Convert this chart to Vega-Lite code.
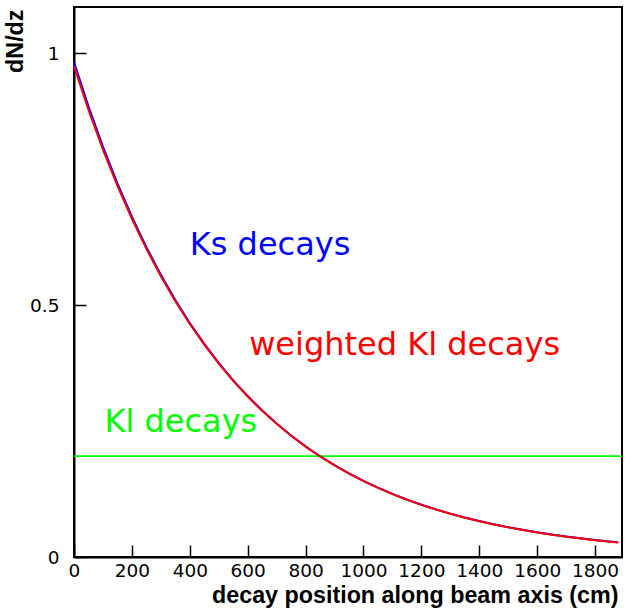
{
  "$schema": "https://vega.github.io/schema/vega-lite/v6.json",
  "width": 548,
  "height": 550,
  "autosize": {"type": "none"},
  "padding": {"left": 74, "top": 7, "right": 4, "bottom": 51},
  "background": "white",
  "config": {
    "view": {"stroke": "black", "strokeWidth": 2},
    "axis": {
      "grid": false,
      "domainColor": "black",
      "domainWidth": 2,
      "tickColor": "black",
      "tickWidth": 1.5,
      "tickSize": -12,
      "labelFont": "DejaVu Sans",
      "labelFontSize": 18.5,
      "labelColor": "black",
      "labelFlush": false,
      "titleFont": "Liberation Sans",
      "titleFontWeight": "bold",
      "titleFontSize": 23.3,
      "titleColor": "black"
    }
  },
  "datasets": {
    "curves": [
      {"series": "Ks", "z": 0, "v": 0.9820},
      {"series": "Ks", "z": 50, "v": 0.8942},
      {"series": "Ks", "z": 100, "v": 0.8143},
      {"series": "Ks", "z": 150, "v": 0.7415},
      {"series": "Ks", "z": 200, "v": 0.6752},
      {"series": "Ks", "z": 250, "v": 0.6149},
      {"series": "Ks", "z": 300, "v": 0.5599},
      {"series": "Ks", "z": 350, "v": 0.5099},
      {"series": "Ks", "z": 400, "v": 0.4643},
      {"series": "Ks", "z": 450, "v": 0.4228},
      {"series": "Ks", "z": 500, "v": 0.3850},
      {"series": "Ks", "z": 550, "v": 0.3506},
      {"series": "Ks", "z": 600, "v": 0.3193},
      {"series": "Ks", "z": 650, "v": 0.2907},
      {"series": "Ks", "z": 700, "v": 0.2648},
      {"series": "Ks", "z": 750, "v": 0.2411},
      {"series": "Ks", "z": 800, "v": 0.2195},
      {"series": "Ks", "z": 850, "v": 0.1999},
      {"series": "Ks", "z": 900, "v": 0.1821},
      {"series": "Ks", "z": 950, "v": 0.1658},
      {"series": "Ks", "z": 1000, "v": 0.1510},
      {"series": "Ks", "z": 1050, "v": 0.1375},
      {"series": "Ks", "z": 1100, "v": 0.1252},
      {"series": "Ks", "z": 1150, "v": 0.1140},
      {"series": "Ks", "z": 1200, "v": 0.1038},
      {"series": "Ks", "z": 1250, "v": 0.0945},
      {"series": "Ks", "z": 1300, "v": 0.0861},
      {"series": "Ks", "z": 1350, "v": 0.0784},
      {"series": "Ks", "z": 1400, "v": 0.0714},
      {"series": "Ks", "z": 1450, "v": 0.0650},
      {"series": "Ks", "z": 1500, "v": 0.0592},
      {"series": "Ks", "z": 1550, "v": 0.0539},
      {"series": "Ks", "z": 1600, "v": 0.0491},
      {"series": "Ks", "z": 1650, "v": 0.0447},
      {"series": "Ks", "z": 1700, "v": 0.0407},
      {"series": "Ks", "z": 1750, "v": 0.0371},
      {"series": "Ks", "z": 1800, "v": 0.0337},
      {"series": "Ks", "z": 1850, "v": 0.0307},
      {"series": "Ks", "z": 1880, "v": 0.0291},
      {"series": "KlW", "z": 0, "v": 0.9740},
      {"series": "KlW", "z": 50, "v": 0.8872},
      {"series": "KlW", "z": 100, "v": 0.8083},
      {"series": "KlW", "z": 150, "v": 0.7365},
      {"series": "KlW", "z": 200, "v": 0.6712},
      {"series": "KlW", "z": 250, "v": 0.6114},
      {"series": "KlW", "z": 300, "v": 0.5569},
      {"series": "KlW", "z": 350, "v": 0.5074},
      {"series": "KlW", "z": 400, "v": 0.4623},
      {"series": "KlW", "z": 450, "v": 0.4213},
      {"series": "KlW", "z": 500, "v": 0.3838},
      {"series": "KlW", "z": 550, "v": 0.3496},
      {"series": "KlW", "z": 600, "v": 0.3185},
      {"series": "KlW", "z": 650, "v": 0.2900},
      {"series": "KlW", "z": 700, "v": 0.2642},
      {"series": "KlW", "z": 750, "v": 0.2406},
      {"series": "KlW", "z": 800, "v": 0.2190},
      {"series": "KlW", "z": 850, "v": 0.1995},
      {"series": "KlW", "z": 900, "v": 0.1817},
      {"series": "KlW", "z": 950, "v": 0.1654},
      {"series": "KlW", "z": 1000, "v": 0.1506},
      {"series": "KlW", "z": 1050, "v": 0.1371},
      {"series": "KlW", "z": 1100, "v": 0.1248},
      {"series": "KlW", "z": 1150, "v": 0.1136},
      {"series": "KlW", "z": 1200, "v": 0.1034},
      {"series": "KlW", "z": 1250, "v": 0.0941},
      {"series": "KlW", "z": 1300, "v": 0.0857},
      {"series": "KlW", "z": 1350, "v": 0.0780},
      {"series": "KlW", "z": 1400, "v": 0.0710},
      {"series": "KlW", "z": 1450, "v": 0.0646},
      {"series": "KlW", "z": 1500, "v": 0.0588},
      {"series": "KlW", "z": 1550, "v": 0.0535},
      {"series": "KlW", "z": 1600, "v": 0.0487},
      {"series": "KlW", "z": 1650, "v": 0.0443},
      {"series": "KlW", "z": 1700, "v": 0.0403},
      {"series": "KlW", "z": 1750, "v": 0.0367},
      {"series": "KlW", "z": 1800, "v": 0.0334},
      {"series": "KlW", "z": 1850, "v": 0.0304},
      {"series": "KlW", "z": 1880, "v": 0.0288},
      {"series": "Kl", "z": 0, "v": 0.2},
      {"series": "Kl", "z": 1893, "v": 0.2}
    ],
    "labels": [
      {"series": "Ks", "label": "Ks decays", "z": 400, "v": 0.6},
      {"series": "KlW", "label": "weighted Kl decays", "z": 605, "v": 0.4},
      {"series": "Kl", "label": "Kl decays", "z": 105, "v": 0.248}
    ]
  },
  "encoding": {
    "x": {
      "field": "z",
      "type": "quantitative",
      "scale": {"domain": [0, 1893], "nice": false, "zero": false},
      "axis": {
        "values": [0, 200, 400, 600, 800, 1000, 1200, 1400, 1600, 1800],
        "format": "d",
        "labelPadding": 16,
        "title": "decay position along beam axis (cm)",
        "titleAnchor": "end",
        "titleAlign": "right",
        "titleBaseline": "alphabetic",
        "titleX": 544,
        "titleY": 45
      }
    },
    "y": {
      "field": "v",
      "type": "quantitative",
      "scale": {"domain": [0, 1.0913], "nice": false, "zero": false},
      "axis": {
        "values": [0, 0.5, 1],
        "format": "~g",
        "labelPadding": 27,
        "title": "dN/dz",
        "titleAngle": -90,
        "titleAlign": "right",
        "titleBaseline": "bottom",
        "titleX": -47,
        "titleY": 2
      }
    },
    "color": {
      "field": "series",
      "type": "nominal",
      "scale": {"domain": ["Ks", "KlW", "Kl"], "range": ["#0000ff", "#ff0000", "#00ff00"]},
      "legend": null
    }
  },
  "layer": [
    {
      "data": {"name": "curves"},
      "transform": [{"filter": "datum.series === 'Kl'"}],
      "mark": {"type": "line", "strokeWidth": 1.8}
    },
    {
      "data": {"name": "curves"},
      "transform": [{"filter": "datum.series === 'Ks'"}],
      "mark": {"type": "line", "strokeWidth": 2}
    },
    {
      "data": {"name": "curves"},
      "transform": [{"filter": "datum.series === 'KlW'"}],
      "mark": {"type": "line", "strokeWidth": 2}
    },
    {
      "data": {"name": "labels"},
      "mark": {"type": "text", "align": "left", "baseline": "alphabetic", "font": "DejaVu Sans", "fontSize": 32},
      "encoding": {"text": {"field": "label"}}
    }
  ]
}
